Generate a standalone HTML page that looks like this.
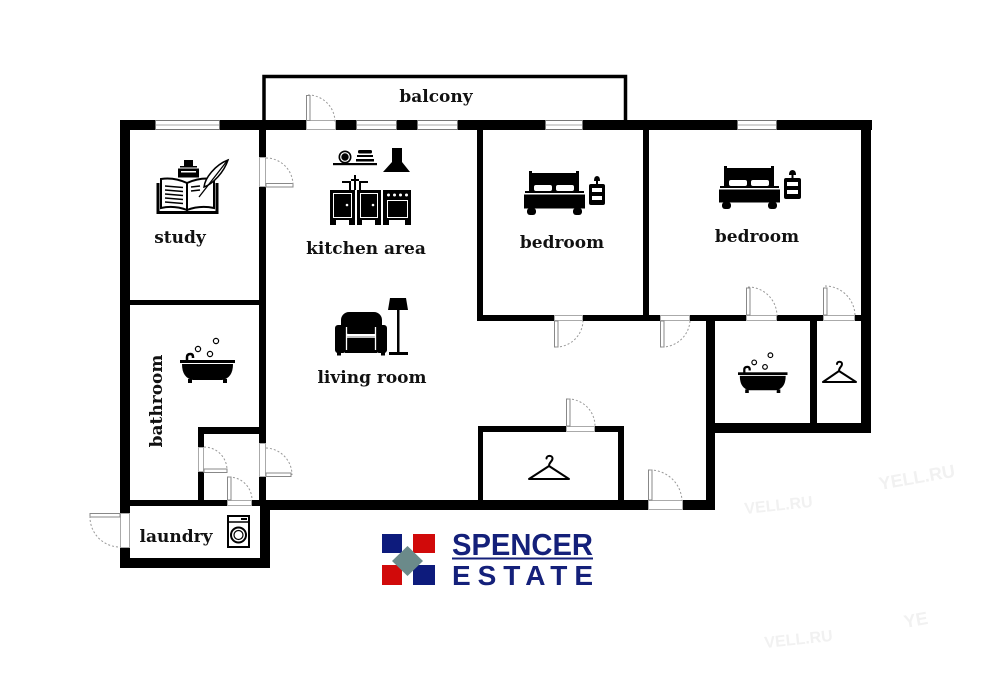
<!DOCTYPE html>
<html><head><meta charset="utf-8"><style>
html,body{margin:0;padding:0;background:#fff;}
svg{display:block;}
.lbl{font-family:"DejaVu Serif","Liberation Serif",serif;font-weight:bold;font-size:17px;fill:#111;}
</style></head><body>
<svg width="1001" height="680" viewBox="0 0 1001 680" xmlns="http://www.w3.org/2000/svg">
<rect width="1001" height="680" fill="#fff"/>

<!-- faint watermarks -->
<g font-family="Liberation Sans, sans-serif" font-weight="bold" fill="#f1f1f1">
  <text x="745" y="514" font-size="16" transform="rotate(-6 745 514)">VELL.RU</text>
  <text x="880" y="490" font-size="18" transform="rotate(-10 880 490)">YELL.RU</text>
  <text x="765" y="648" font-size="16" transform="rotate(-6 765 648)">VELL.RU</text>
  <text x="905" y="628" font-size="18" transform="rotate(-10 905 628)">YE</text>
</g>

<!-- balcony -->
<path d="M264 120 V76.5 H625.5 V120" fill="none" stroke="#000" stroke-width="3.5"/>

<!-- walls -->
<g fill="#000">
  <rect x="120" y="120" width="752" height="10"/>
  <rect x="120" y="120" width="10" height="448"/>
  <rect x="861" y="120" width="10" height="313"/>
  <rect x="706" y="423" width="165" height="10"/>
  <rect x="706" y="315" width="9" height="195"/>
  <rect x="260" y="500" width="455" height="10"/>
  <rect x="260" y="500" width="10" height="68"/>
  <rect x="120" y="558" width="150" height="10"/>
  <rect x="259" y="130" width="7" height="372"/>
  <rect x="130" y="300" width="130" height="5"/>
  <rect x="198" y="427" width="6" height="75"/>
  <rect x="198" y="427" width="62" height="7"/>
  <rect x="130" y="500" width="130" height="6"/>
  <rect x="477" y="130" width="6" height="191"/>
  <rect x="643" y="130" width="6" height="187"/>
  <rect x="477" y="315" width="394" height="6"/>
  <rect x="810" y="321" width="7" height="102"/>
  <rect x="478" y="426" width="146" height="6"/>
  <rect x="478" y="426" width="5" height="79"/>
  <rect x="618" y="426" width="6" height="79"/>
</g>

<!-- windows -->
<g fill="#fff" stroke="#777" stroke-width="1">
  <rect x="155.5" y="120.5" width="64" height="9"/>
  <rect x="356.5" y="120.5" width="40" height="9"/>
  <rect x="417.5" y="120.5" width="40" height="9"/>
  <rect x="545.5" y="120.5" width="37" height="9"/>
  <rect x="737.5" y="120.5" width="39" height="9"/>
</g>
<g stroke="#aaa" stroke-width="1">
  <line x1="156" y1="125" x2="219" y2="125"/>
  <line x1="357" y1="125" x2="396" y2="125"/>
  <line x1="418" y1="125" x2="457" y2="125"/>
  <line x1="546" y1="125" x2="582" y2="125"/>
  <line x1="738" y1="125" x2="776" y2="125"/>
</g>

<!-- door openings -->
<g fill="#fff" stroke="#aaa" stroke-width="1">
  <rect x="306.5" y="120.5" width="29" height="9"/>
  <rect x="259.5" y="157.5" width="6" height="29"/>
  <rect x="259.5" y="443.5" width="6" height="33"/>
  <rect x="198.5" y="447.5" width="5" height="24"/>
  <rect x="227.5" y="500.5" width="24" height="5"/>
  <rect x="120.5" y="513.5" width="9" height="34"/>
  <rect x="554.5" y="315.5" width="28" height="5"/>
  <rect x="660.5" y="315.5" width="29" height="5"/>
  <rect x="746.5" y="315.5" width="30" height="5"/>
  <rect x="823.5" y="315.5" width="31" height="5"/>
  <rect x="566.5" y="426.5" width="28" height="5"/>
  <rect x="648.5" y="500.5" width="34" height="9"/>
</g>
<!-- door leaves -->
<g fill="#fff" stroke="#888" stroke-width="1">
  <rect x="306.5" y="95.5" width="3.5" height="25"/>
  <rect x="266" y="183.5" width="27" height="3.5"/>
  <rect x="266" y="473" width="25" height="3.5"/>
  <rect x="204" y="469" width="23" height="3.5"/>
  <rect x="227.5" y="477" width="3.5" height="23"/>
  <rect x="90" y="513.5" width="30" height="3.5"/>
  <rect x="554.5" y="321" width="3.5" height="26"/>
  <rect x="660.5" y="321" width="3.5" height="26"/>
  <rect x="746.5" y="288" width="3.5" height="27"/>
  <rect x="823.5" y="288" width="3.5" height="27"/>
  <rect x="566.5" y="399" width="3.5" height="27"/>
  <rect x="648.5" y="470" width="3.5" height="30"/>
</g>
<!-- door swings -->
<g fill="none" stroke="#999" stroke-width="1" stroke-dasharray="2 2">
  <path d="M308 95 A27 27 0 0 1 335 122"/>
  <path d="M266 158 A27 27 0 0 1 293 185"/>
  <path d="M266 448 A27 27 0 0 1 292 475"/>
  <path d="M204 447 A23 23 0 0 1 227 470"/>
  <path d="M229 477 A23 23 0 0 1 252 500"/>
  <path d="M90 516 A30 30 0 0 0 121 547"/>
  <path d="M556 347 A27 27 0 0 0 583 321"/>
  <path d="M662 347 A28 28 0 0 0 690 321"/>
  <path d="M748 287 A29 29 0 0 1 777 316"/>
  <path d="M825 286 A30 30 0 0 1 855 316"/>
  <path d="M568 399 A27 27 0 0 1 595 426"/>
  <path d="M650 470 A32 32 0 0 1 682 501"/>
</g>

<!-- study icon -->
<g>
  <rect x="184" y="160" width="9" height="6" fill="#000"/>
  <rect x="180" y="166" width="17" height="1.5" fill="#000"/>
  <rect x="178" y="168.5" width="21" height="9" fill="#000"/>
  <rect x="181" y="171" width="15" height="1.5" fill="#fff"/>
  <path d="M158 183 V212.5 H217 V183" fill="none" stroke="#000" stroke-width="3"/>
  <path d="M161 179 Q174 177 187 183 V210 Q174 205 161 208 Z" fill="#fff" stroke="#000" stroke-width="2"/>
  <path d="M187 183 Q200 177 214 179 V208 Q200 205 187 210 Z" fill="#fff" stroke="#000" stroke-width="2"/>
  <g stroke="#000" stroke-width="1.5">
    <line x1="165" y1="186" x2="183" y2="187.5"/>
    <line x1="165" y1="190" x2="183" y2="191.5"/>
    <line x1="165" y1="194" x2="183" y2="195.5"/>
    <line x1="165" y1="198" x2="183" y2="199.5"/>
    <line x1="165" y1="202" x2="183" y2="203.5"/>
    <line x1="191" y1="187" x2="200" y2="186"/>
    <line x1="191" y1="191" x2="200" y2="190"/>
  </g>
  <path d="M228 160 C215 165 205 178 204 187 C213 184 224 172 228 160 Z" fill="#fff" stroke="#000" stroke-width="1.5"/>
  <line x1="227" y1="161" x2="199" y2="197" stroke="#000" stroke-width="1.3"/>
</g>

<!-- kitchen icon -->
<g>
  <circle cx="345" cy="157" r="6.5" fill="#000"/>
  <circle cx="345" cy="157" r="4.3" fill="none" stroke="#fff" stroke-width="1.2"/>
  <rect x="358" y="150" width="14" height="3.5" rx="1.5" fill="#000"/>
  <rect x="357" y="155" width="16" height="2" fill="#000"/>
  <rect x="356" y="159" width="18" height="2.5" fill="#000"/>
  <rect x="333" y="163" width="44" height="2.2" fill="#000"/>
  <path d="M392 148 H402 V162 L410 172 H383 L392 162 Z" fill="#000"/>
  <g stroke="#000" stroke-width="2" fill="none">
    <path d="M342 182 H350 V190"/>
    <path d="M355 175 V190"/>
    <path d="M351 180 H359"/>
    <path d="M368 182 H360 V190"/>
  </g>
  <rect x="330" y="190" width="25" height="35" fill="#000"/>
  <rect x="357" y="190" width="24" height="35" fill="#000"/>
  <rect x="383" y="190" width="28" height="35" fill="#000"/>
  <g fill="none" stroke="#fff" stroke-width="1">
    <rect x="333.5" y="193.5" width="18" height="24"/>
    <rect x="360.5" y="193.5" width="17" height="24"/>
    <rect x="387.5" y="200.5" width="20" height="17"/>
  </g>
  <rect x="336" y="220" width="13" height="5" fill="#fff"/>
  <rect x="362" y="220" width="13" height="5" fill="#fff"/>
  <rect x="389" y="220" width="16" height="5" fill="#fff"/>
  <g fill="#fff">
    <circle cx="347" cy="205" r="1.3"/>
    <circle cx="373" cy="205" r="1.3"/>
    <circle cx="388.5" cy="195" r="1.5"/>
    <circle cx="394.5" cy="195" r="1.5"/>
    <circle cx="400.5" cy="195" r="1.5"/>
    <circle cx="406.5" cy="195" r="1.5"/>
  </g>
</g>

<!-- bed icons -->
<g id="bed1" transform="translate(524,173)">
  <rect x="6" y="0" width="48" height="20" fill="#000"/>
  <rect x="5" y="-2" width="3" height="22" fill="#000"/>
  <rect x="52" y="-2" width="3" height="22" fill="#000"/>
  <rect x="10" y="12" width="18" height="6" rx="2" fill="#fff"/>
  <rect x="32" y="12" width="18" height="6" rx="2" fill="#fff"/>
  <rect x="1" y="18" width="59" height="2" fill="#000"/>
  <rect x="0" y="21.5" width="61" height="14" fill="#000"/>
  <rect x="3" y="35" width="9" height="7" rx="3" fill="#000"/>
  <rect x="49" y="35" width="9" height="7" rx="3" fill="#000"/>
</g>
<g transform="translate(719,168)">
  <rect x="6" y="0" width="48" height="20" fill="#000"/>
  <rect x="5" y="-2" width="3" height="22" fill="#000"/>
  <rect x="52" y="-2" width="3" height="22" fill="#000"/>
  <rect x="10" y="12" width="18" height="6" rx="2" fill="#fff"/>
  <rect x="32" y="12" width="18" height="6" rx="2" fill="#fff"/>
  <rect x="1" y="18" width="59" height="2" fill="#000"/>
  <rect x="0" y="21.5" width="61" height="13" fill="#000"/>
  <rect x="3" y="34" width="9" height="7" rx="3" fill="#000"/>
  <rect x="49" y="34" width="9" height="7" rx="3" fill="#000"/>
</g>
<!-- nightstands -->
<g transform="translate(589,175)">
  <path d="M5 6 Q5 1 8 1 Q11 1 11 6 Z" fill="#000"/>
  <rect x="7" y="6" width="2" height="3" fill="#000"/>
  <rect x="0" y="9" width="16" height="21" rx="2" fill="#000"/>
  <rect x="3" y="13" width="10" height="4" fill="#fff"/>
  <rect x="3" y="21" width="10" height="4" fill="#fff"/>
</g>
<g transform="translate(784,169)">
  <path d="M5 6 Q5 1 8.5 1 Q12 1 12 6 Z" fill="#000"/>
  <rect x="7.5" y="6" width="2" height="3" fill="#000"/>
  <rect x="0" y="9" width="17" height="21" rx="2" fill="#000"/>
  <rect x="3" y="13" width="11" height="4" fill="#fff"/>
  <rect x="3" y="21" width="11" height="4" fill="#fff"/>
</g>

<!-- living icon -->
<g>
  <rect x="341" y="312" width="41" height="22" rx="8" fill="#000"/>
  <rect x="335" y="325" width="11" height="28" rx="3" fill="#000"/>
  <rect x="376" y="325" width="11" height="28" rx="3" fill="#000"/>
  <rect x="345" y="336" width="32" height="17" fill="#000"/>
  <path d="M347 337 H375" stroke="#fff" stroke-width="1.5"/>
  <path d="M346.5 327 V350 M375.5 327 V350" stroke="#fff" stroke-width="1.3"/>
  <rect x="337" y="352" width="4" height="3.5" fill="#000"/>
  <rect x="381" y="352" width="4" height="3.5" fill="#000"/>
  <path d="M390 298 H406 L408 310 H388 Z" fill="#000"/>
  <rect x="397" y="310" width="2.5" height="43" fill="#000"/>
  <rect x="389" y="352" width="19" height="3" fill="#000"/>
</g>

<!-- bathtubs -->
<g transform="translate(180,353)">
  <path d="M7 8 V4 Q7 1 10.5 1 Q13 1 13 4 V5" fill="none" stroke="#000" stroke-width="2.5"/>
  <rect x="0" y="7" width="55" height="3" fill="#000"/>
  <path d="M2 11 H53 Q53 25 42 27 H13 Q2 25 2 11 Z" fill="#000"/>
  <rect x="8" y="26" width="4" height="4" fill="#000"/>
  <rect x="43" y="26" width="4" height="4" fill="#000"/>
  <g fill="none" stroke="#000" stroke-width="1.2">
    <circle cx="18" cy="-4" r="2.6"/>
    <circle cx="30" cy="1" r="2.6"/>
    <circle cx="36" cy="-12" r="2.6"/>
  </g>
</g>
<g transform="translate(738,366) scale(0.9)">
  <path d="M7 8 V4 Q7 1 10.5 1 Q13 1 13 4 V5" fill="none" stroke="#000" stroke-width="2.5"/>
  <rect x="0" y="7" width="55" height="3" fill="#000"/>
  <path d="M2 11 H53 Q53 25 42 27 H13 Q2 25 2 11 Z" fill="#000"/>
  <rect x="8" y="26" width="4" height="4" fill="#000"/>
  <rect x="43" y="26" width="4" height="4" fill="#000"/>
  <g fill="none" stroke="#000" stroke-width="1.3">
    <circle cx="18" cy="-4" r="2.6"/>
    <circle cx="30" cy="1" r="2.6"/>
    <circle cx="36" cy="-12" r="2.6"/>
  </g>
</g>

<!-- hangers -->
<g fill="none" stroke="#000" stroke-width="2" stroke-linejoin="round" stroke-linecap="round">
  <path d="M839 371 C839 367 842 367 842 364 C842 361 837 361 837 364 M839 371 L823 382 H856 Z"/>
  <path d="M549 466 C549 462 552.5 461.5 552.5 458.5 C552.5 455 546.5 455 546.5 458.5 M549 466 L529 479 H569 Z"/>
</g>

<!-- washing machine -->
<g fill="none" stroke="#000">
  <rect x="228" y="516" width="21" height="31" stroke-width="2"/>
  <line x1="228" y1="522" x2="249" y2="522" stroke-width="1.5"/>
  <circle cx="238.5" cy="535" r="7.5" stroke-width="2"/>
  <circle cx="238.5" cy="535" r="4.5" stroke-width="1.2"/>
</g>
<rect x="241" y="518" width="6" height="2" fill="#000"/>

<!-- labels -->
<text class="lbl" x="436" y="102" text-anchor="middle">balcony</text>
<text class="lbl" x="180" y="243" text-anchor="middle">study</text>
<text class="lbl" x="366" y="254" text-anchor="middle">kitchen area</text>
<text class="lbl" x="562" y="248" text-anchor="middle">bedroom</text>
<text class="lbl" x="757" y="242" text-anchor="middle">bedroom</text>
<text class="lbl" x="372" y="383" text-anchor="middle">living room</text>
<text class="lbl" x="176" y="542" text-anchor="middle">laundry</text>
<text class="lbl" text-anchor="middle" transform="translate(162,401) rotate(-90)">bathroom</text>

<!-- logo -->
<g>
  <rect x="382" y="534" width="20" height="19" fill="#0d1b7c"/>
  <rect x="413" y="534" width="22" height="19" fill="#d10a0a"/>
  <rect x="382" y="565" width="20" height="20" fill="#d10a0a"/>
  <rect x="413" y="565" width="22" height="20" fill="#0d1b7c"/>
  <path d="M407.5 546 L423 561 L407.5 576 L392 561 Z" fill="#6b8a8a"/>
  <text x="452" y="555" font-family="Liberation Sans, sans-serif" font-weight="bold" font-size="31" fill="#14207a" textLength="141" lengthAdjust="spacingAndGlyphs">SPENCER</text>
  <rect x="452" y="557.5" width="141" height="2" fill="#14207a"/>
  <text x="452" y="585" font-family="Liberation Sans, sans-serif" font-weight="bold" font-size="28" fill="#14207a" textLength="141" lengthAdjust="spacing">ESTATE</text>
</g>
</svg>
</body></html>
